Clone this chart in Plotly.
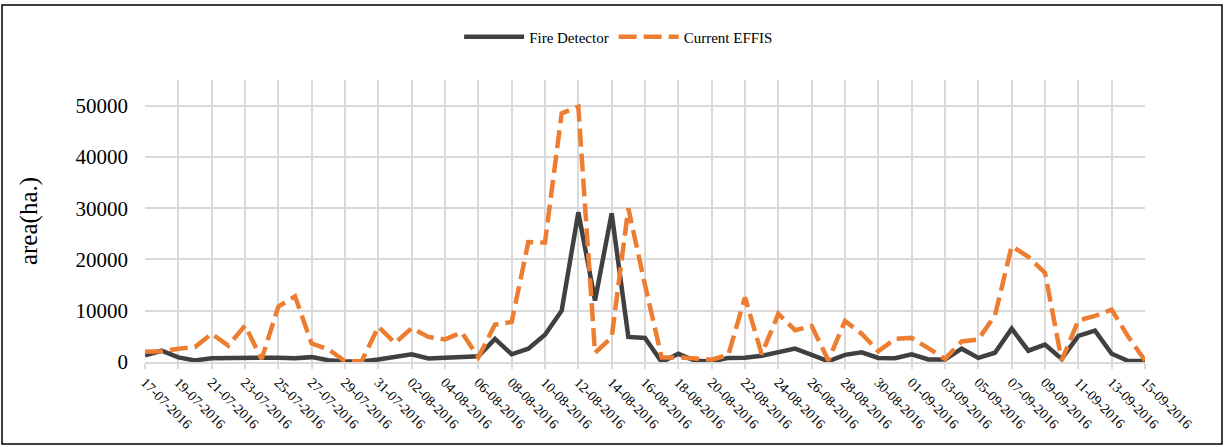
import datetime as dt
import plotly.graph_objects as go

start = dt.date(2016, 7, 17)
dates = [(start + dt.timedelta(days=i)).strftime("%d-%m-%Y") for i in range(61)]

fire_detector = [1300, 2200, 900, 300, 750, 850, 950, 850, 850, 750,
                 950, 350, 100, 100, 500, 1100, 1500, 700, 850, 850,
                 1100, 4500, 1500, 2600, 5300, 10000, 29200, 12000, 29000, 4900,
                 4700, 0, 1600, 250, 100, 800, 850, 1200, 2000, 2600,
                 1400, 150, 1400, 1900, 800, 750, 1500, 500, 500, 2600,
                 800, 1800, 6500, 2200, 3400, 600, 5100, 6100, 1600, 200,
                 200]

current_effis = [2000, 2100, 2600, 2900, 5500, 3200, 7100, 600, 10800, 12800,
                 3600, 2500, 150, 150, 6900, 3700, 6600, 4900, 4400, 5800,
                 900, 7300, 7800, 23400, 23300, 48500, 49800, 1800, 4800, 30000,
                 15000, 900, 900, 700, 450, 1400, 12600, 1500, 9400, 6200,
                 7000, 300, 8000, 5500, 2100, 4500, 4700, 2700, 600, 4000,
                 4400, 9100, 22600, 20500, 17400, 300, 8100, 9000, 10200, 4900,
                 300]

tick_labels = dates[::2]
y_ticks = [0, 10000, 20000, 30000, 40000, 50000]
y_tick_text = ["0", "10000", "20000", "30000", "40000", "50000"]

FONT = "Liberation Serif"

fig = go.Figure()
fig.add_trace(go.Scatter(
    x=dates, y=fire_detector, mode="lines", name="Fire Detector",
    line=dict(color="#404040", width=4.5),
))
fig.add_trace(go.Scatter(
    x=dates, y=current_effis, mode="lines", name="Current EFFIS",
    line=dict(color="#ED7D31", width=4.5, dash="18px,7px"),
))

fig.update_layout(
    width=1225, height=447,
    margin=dict(l=145, r=80, t=80, b=85),
    paper_bgcolor="white", plot_bgcolor="white",
    font=dict(family=FONT, color="black"),
    showlegend=True,
    legend=dict(orientation="h", xref="container", x=0.505, xanchor="center",
                yref="container", y=0.917, yanchor="middle",
                font=dict(family=FONT, size=15, color="black"),
                itemwidth=60, traceorder="normal"),
    xaxis=dict(
        type="category", range=[0, 60], automargin=False,
        tickmode="array", tickvals=tick_labels, ticktext=tick_labels,
        tickangle=45, tickfont=dict(family=FONT, size=14, color="black"),
        showgrid=True, gridcolor="#d9d9d9", gridwidth=1.5,
        ticks="outside", ticklen=5, tickcolor="#d9d9d9", tickwidth=1.5,
        showline=True, linecolor="#d9d9d9", linewidth=1.5,
        zeroline=False,
    ),
    yaxis=dict(
        range=[0, 55000], tickmode="array", tickvals=y_ticks, ticktext=y_tick_text,
        automargin=False,
        tickfont=dict(family=FONT, size=21, color="black"),
        showgrid=True, gridcolor="#d9d9d9", gridwidth=1.5,
        zeroline=False, showline=False,
        ticklabelstandoff=16,
        title=dict(text="area(ha.)", font=dict(family=FONT, size=25, color="black"),
                   standoff=30),
    ),
)

fig.add_shape(type="rect", xref="paper", yref="paper",
              x0=(2 - 145) / 1000, x1=(1222 - 145) / 1000,
              y0=(362 - 444) / 282, y1=(362 - 5) / 282,
              line=dict(color="black", width=1.5), layer="above")

fig.write_html("out.html",
               config={"displayModeBar": False},
               post_script="document.body.style.margin='0';document.body.style.overflow='hidden';")
